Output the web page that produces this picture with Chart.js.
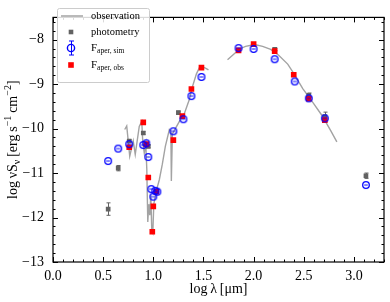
<!DOCTYPE html>
<html>
<head>
<meta charset="utf-8">
<script src="https://cdn.jsdelivr.net/npm/chart.js@4.4.1/dist/chart.umd.min.js"></script>
<style>
  body { margin: 0; background: #fff; }
  canvas { display: block; }
</style>
</head>
<body>
<canvas id="grafico" width="390" height="302"></canvas>
<script>
// observed spectrum (log lambda, log nuS_nu), null = gap between the two pieces
const specLogLam  = [0.715, 0.735, 0.765, 0.80, 0.82, 0.86, 0.885, 0.895, 0.91, 0.925, 0.935, 0.945, 0.955, 0.965, 0.975, 0.985, 0.995, 1.005, 1.03, 1.06, 1.09, 1.12, 1.16, 1.175, 1.18, 1.19, 1.22, 1.26, 1.31, 1.36, 1.39, 1.43, 1.46, 1.49, 1.52, 1.55,
  1.65,
  1.74, 1.81, 1.86, 1.92, 2.01, 2.09, 2.17, 2.25, 2.34, 2.40, 2.49, 2.59, 2.68, 2.77, 2.83];
const specLogFlux = [-10.02, -9.94, -10.62, -10.28, -10.58, -9.95, -9.84, -10.3, -10.55, -10.35, -10.9, -12.1, -11.7, -11.95, -11.5, -12.3, -12.35, -11.7, -11.4, -11.15, -10.8, -10.4, -10.02, -10.05, -11.18, -10.12, -10.0, -9.84, -9.66, -9.34, -9.06, -8.77, -8.63, -8.61, -8.64, -8.68,
  null,
  -8.45, -8.31, -8.21, -8.15, -8.11, -8.15, -8.22, -8.35, -8.55, -8.76, -9.10, -9.41, -9.70, -10.05, -10.30];

// photometry
const photLogLam  = [0.55, 0.65, 0.76, 0.90, 0.95, 1.25, 2.21, 2.55, 2.71, 3.12];
const photLogFlux = [-11.81, -10.89, -10.28, -10.10, -10.40, -9.64, -8.22, -9.25, -9.73, -11.06];
const photErr     = [0.14, 0.06, 0.03, 0.03, 0.03, 0.03, 0.03, 0.05, 0.10, 0.06];

// F_aper,sim
const simLogLam  = [0.55, 0.65, 0.76, 0.90, 0.93, 0.95, 0.98, 1.00, 1.02, 1.04, 1.20, 1.30, 1.38, 1.48, 1.85, 2.00, 2.21, 2.41, 2.55, 2.71, 3.12];
const simLogFlux = [-10.73, -10.45, -10.35, -10.37, -10.33, -10.64, -11.36, -11.53, -11.40, -11.42, -10.06, -9.79, -9.27, -8.84, -8.19, -8.21, -8.44, -8.94, -9.32, -9.77, -11.27];

// F_aper,obs
const apLogLam  = [0.76, 0.90, 0.93, 0.95, 0.99, 1.00, 1.03, 1.20, 1.29, 1.38, 1.48, 1.85, 2.00, 2.21, 2.40, 2.55, 2.71];
const apLogFlux = [-10.42, -9.86, -10.35, -11.10, -12.32, -11.75, -11.42, -10.26, -9.72, -9.11, -8.63, -8.24, -8.10, -8.26, -8.79, -9.33, -9.81];

const xTicks = [0, 0.5, 1.0, 1.5, 2.0, 2.5, 3.0];
const yTicks = [-13, -12, -11, -10, -9, -8];

const serif = "'Liberation Serif', 'Times New Roman', serif";
const grisLinea = "#a3a3a3";
const grisFoto = "#626262";

function pares(xs, ys) {
  return xs.map((x, i) => ({ x: x, y: ys[i] }));
}

// hollow circle with a small bar through it
function marcaCirculo() {
  const c = document.createElement("canvas");
  c.width = 12; c.height = 12;
  const g = c.getContext("2d");
  g.strokeStyle = "#0000ff";
  g.lineWidth = 1.3;
  g.beginPath();
  g.arc(6, 6, 3.3, 0, Math.PI * 2);
  g.stroke();
  g.lineWidth = 1;
  g.beginPath();
  g.moveTo(4.2, 6);
  g.lineTo(7.8, 6);
  g.stroke();
  return c;
}

function textoRico(ctx, partes, x, y) {
  let ancho = 0;
  partes.forEach(p => {
    ctx.font = p.size + "px " + serif;
    ancho += ctx.measureText(p.t).width;
  });
  let cx = x - ancho / 2;
  partes.forEach(p => {
    ctx.font = p.size + "px " + serif;
    ctx.fillText(p.t, cx, y + (p.dy || 0));
    cx += ctx.measureText(p.t).width;
  });
}

const marco = {
  id: "marco",
  beforeDatasetsDraw(chart) {
    const ctx = chart.ctx;
    const sx = chart.scales.x, sy = chart.scales.y;
    ctx.save();
    ctx.strokeStyle = grisFoto;
    ctx.lineWidth = 1;
    photLogLam.forEach((v, i) => {
      const px = Math.round(sx.getPixelForValue(v)) + 0.5;
      const y1 = sy.getPixelForValue(photLogFlux[i] + photErr[i]);
      const y2 = sy.getPixelForValue(photLogFlux[i] - photErr[i]);
      ctx.beginPath();
      ctx.moveTo(px, y1); ctx.lineTo(px, y2);
      ctx.moveTo(px - 2, y1); ctx.lineTo(px + 2, y1);
      ctx.moveTo(px - 2, y2); ctx.lineTo(px + 2, y2);
      ctx.stroke();
    });
    ctx.restore();
  },
  afterDraw(chart) {
    const ctx = chart.ctx;
    const a = chart.chartArea;
    const sx = chart.scales.x, sy = chart.scales.y;
    ctx.save();
    ctx.strokeStyle = "#000";
    ctx.lineWidth = 1.2;
    ctx.strokeRect(a.left, a.top, a.right - a.left, a.bottom - a.top);

    // ticks pointing inward on all sides
    ctx.lineWidth = 1;
    for (let k = 0; k <= 33; k++) {
      const v = k / 10;
      const px = Math.round(sx.getPixelForValue(v)) + 0.5;
      const len = k % 5 === 0 ? 5 : 2.5;
      ctx.beginPath();
      ctx.moveTo(px, a.bottom); ctx.lineTo(px, a.bottom - len);
      ctx.moveTo(px, a.top); ctx.lineTo(px, a.top + len);
      ctx.stroke();
    }
    for (let k = 0; k <= 27; k++) {
      const v = -13 + k * 0.2;
      const py = Math.round(sy.getPixelForValue(v)) + 0.5;
      const len = k % 5 === 0 ? 5 : 2.5;
      ctx.beginPath();
      ctx.moveTo(a.left, py); ctx.lineTo(a.left + len, py);
      ctx.moveTo(a.right, py); ctx.lineTo(a.right - len, py);
      ctx.stroke();
    }

    // axis titles
    ctx.fillStyle = "#000";
    ctx.textBaseline = "alphabetic";
    ctx.textAlign = "left";
    textoRico(ctx, [{ t: "log\u2009\u03bb\u2009[\u03bcm]", size: 14 }], (a.left + a.right) / 2, 293);

    ctx.save();
    ctx.translate(17, (a.top + a.bottom) / 2);
    ctx.rotate(-Math.PI / 2);
    textoRico(ctx, [
      { t: "log\u2009\u03bdS", size: 14 },
      { t: "\u03bd", size: 10, dy: 3 },
      { t: "\u2009[erg\u2009s", size: 14 },
      { t: "\u22121", size: 10, dy: -6 },
      { t: "\u2009cm", size: 14 },
      { t: "\u22122", size: 10, dy: -6 },
      { t: "]", size: 14 }
    ], 0, 0);
    ctx.restore();

    // legend
    const lx = 57, ly = 8, lw = 92, lh = 74;
    ctx.fillStyle = "rgba(255,255,255,0.85)";
    ctx.strokeStyle = "#cccccc";
    ctx.lineWidth = 1;
    ctx.beginPath();
    ctx.roundRect(lx + 0.5, ly + 0.5, lw, lh, 2);
    ctx.fill();
    ctx.stroke();

    const mx = 71, tx = 91;
    const filas = [16, 32, 48, 65];
    ctx.strokeStyle = grisLinea;
    ctx.lineWidth = 1.5;
    ctx.beginPath();
    ctx.moveTo(61, filas[0]); ctx.lineTo(83, filas[0]);
    ctx.stroke();

    ctx.fillStyle = grisFoto;
    ctx.fillRect(mx - 2.3, filas[1] - 2.3, 4.6, 4.6);

    ctx.strokeStyle = "#0000ff";
    ctx.lineWidth = 1.4;
    ctx.beginPath();
    ctx.arc(mx, filas[2], 3.6, 0, Math.PI * 2);
    ctx.stroke();
    ctx.lineWidth = 1;
    ctx.beginPath();
    ctx.moveTo(mx + 0.5, filas[2] - 7); ctx.lineTo(mx + 0.5, filas[2] + 7);
    ctx.moveTo(mx - 2, filas[2] - 7); ctx.lineTo(mx + 3, filas[2] - 7);
    ctx.moveTo(mx - 2, filas[2] + 7); ctx.lineTo(mx + 3, filas[2] + 7);
    ctx.stroke();

    ctx.fillStyle = "#ff0000";
    ctx.fillRect(mx - 2.8, filas[3] - 2.8, 5.6, 5.6);

    ctx.fillStyle = "#000";
    ctx.textBaseline = "middle";
    ctx.font = "10.5px " + serif;
    ctx.fillText(chart.data.datasets[0].label, tx, filas[0]);
    ctx.fillText(chart.data.datasets[1].label, tx, filas[1]);
    [2, 3].forEach((d, j) => {
      const partes = chart.data.datasets[d].label.split("_");
      ctx.font = "11px " + serif;
      ctx.fillText(partes[0], tx, filas[2 + j]);
      const w = ctx.measureText(partes[0]).width;
      ctx.font = "7.5px " + serif;
      ctx.fillText(partes[1], tx + w, filas[2 + j] + 3);
    });
    ctx.restore();
  }
};

const ctx = document.getElementById("grafico").getContext("2d");

new Chart(ctx, {
  type: "scatter",
  data: {
    datasets: [
      {
        label: "observation",
        data: pares(specLogLam, specLogFlux),
        showLine: true,
        spanGaps: false,
        borderColor: grisLinea,
        borderWidth: 1.4,
        pointRadius: 0,
        tension: 0,
        order: 4
      },
      {
        label: "photometry",
        data: pares(photLogLam, photLogFlux),
        pointStyle: "rect",
        pointRadius: 3.3,
        backgroundColor: grisFoto,
        borderColor: grisFoto,
        borderWidth: 0,
        order: 3
      },
      {
        label: "F_aper, sim",
        data: pares(simLogLam, simLogFlux),
        pointStyle: marcaCirculo(),
        order: 1
      },
      {
        label: "F_aper, obs",
        data: pares(apLogLam, apLogFlux),
        pointStyle: "rect",
        pointRadius: 4,
        backgroundColor: "#ff0000",
        borderColor: "#ff0000",
        borderWidth: 0,
        order: 2
      }
    ]
  },
  options: {
    responsive: false,
    animation: false,
    devicePixelRatio: 1,
    layout: { padding: { top: 4, right: 6, left: 0, bottom: 0 } },
    plugins: {
      legend: { display: false },
      tooltip: { enabled: false }
    },
    scales: {
      x: {
        type: "linear",
        min: 0,
        max: 3.3,
        afterBuildTicks: s => { s.ticks = xTicks.map(v => ({ value: v })); },
        afterFit: s => { s.height = 40; },
        grid: { display: false, drawTicks: false },
        border: { display: false },
        ticks: {
          color: "#000",
          padding: 6,
          maxRotation: 0,
          font: { family: serif, size: 14 },
          callback: v => v.toFixed(1)
        }
      },
      y: {
        type: "linear",
        min: -13,
        max: -7.5,
        afterBuildTicks: s => { s.ticks = yTicks.map(v => ({ value: v })); },
        afterFit: s => { s.width = 53; },
        grid: { display: false, drawTicks: false },
        border: { display: false },
        ticks: {
          color: "#000",
          padding: 9,
          font: { family: serif, size: 14 },
          callback: v => (v < 0 ? "\u2212" : "") + Math.abs(v)
        }
      }
    }
  },
  plugins: [marco]
});
</script>
</body>
</html>
